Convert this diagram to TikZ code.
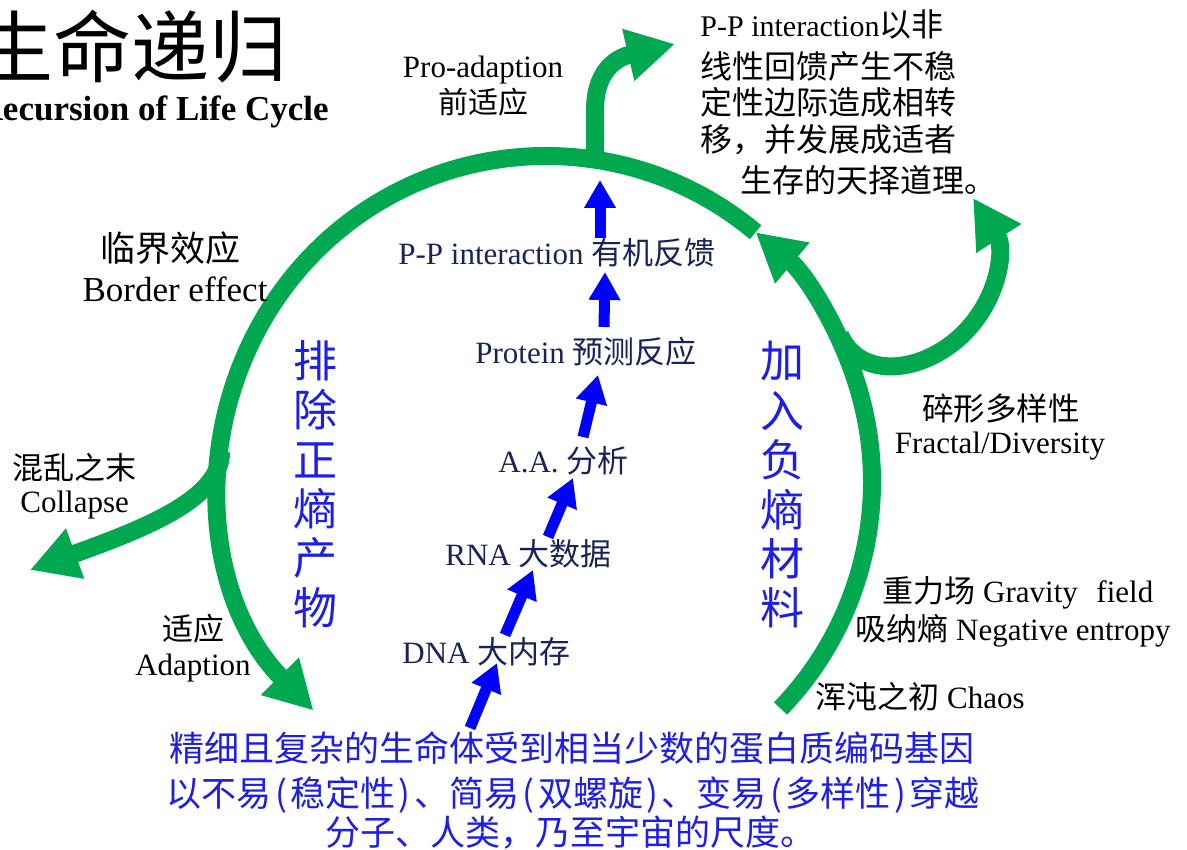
\documentclass[tikz,border=0pt]{standalone}
\usepackage{fontspec}
\setmainfont{Liberation Serif}
\newfontfamily\cjk{Noto Sans CJK SC}
\usetikzlibrary{arrows.meta}
\definecolor{lifegreen}{RGB}{0,168,80}
\definecolor{arrowblue}{RGB}{0,0,255}
\definecolor{textblue}{RGB}{30,30,235}
\definecolor{navy}{RGB}{25,35,90}
\newcommand\myop{\kern.1em(\kern.1em}
\newcommand\mycp{\kern.1em)\kern.1em}
\begin{document}
\begin{tikzpicture}[x=0.5pt,y=-0.5pt,
  garc/.style={draw=lifegreen, line width=9pt},
  garrow/.style={garc, -{Triangle[width=25pt,length=24pt]}},
  barrow/.style={draw=arrowblue, line width=5.5pt, -{Triangle[width=15pt,length=14pt]}},
  en/.style={inner sep=0pt, font=\fontsize{15.5}{18}\selectfont},
  zh/.style={inner sep=0pt, font=\cjk\fontsize{15.5}{18}\selectfont},
  nv/.style={inner sep=0pt, text=navy, font=\fontsize{15.5}{18}\selectfont, anchor=base west},
  vert/.style={inner sep=0pt, text=textblue, align=center, font=\cjk\fontsize{22}{24.7}\selectfont},
  bottomtxt/.style={inner sep=0pt, text=textblue, anchor=base, font=\cjk\fontsize{17.5}{20}\selectfont}]
\useasboundingbox (0,0) rectangle (1187,850);
\clip (0,0) rectangle (1187,850);
\fill[white] (0,0) rectangle (1187,850);

% title
\node[inner sep=0pt, anchor=base east, font=\cjk\fontsize{39}{44}\selectfont] (title) at (288,77) {生命递归};
\node[inner sep=0pt, anchor=base east, font=\bfseries\fontsize{17.5}{21}\selectfont] (subtitle) at (329,121) {Recursion of Life Cycle};

% main cycle
\coordinate (c) at (546,482);
\draw[garrow] (c) ++(44:326) arc[start angle=44, end angle=-50, radius=326];
\draw[garrow] (c) ++(-50:326) arc[start angle=-50, end angle=-224.5, radius=326];

% branches
\coordinate (topj) at (595,163);
\coordinate (toptip) at (675,44);
\draw[garrow] (topj) -- (595,110) .. controls (595,72) and (615,58) .. (toptip);
\coordinate (rightj) at (840,335);
\coordinate (righttip) at (973,198);
\draw[garrow] (rightj) .. controls (859,378) and (918,375) .. (960,337) .. controls (1000,300) and (1005,248) .. (righttip);
\coordinate (leftj) at (221,452);
\coordinate (lefttip) at (30,570);
\draw[garrow] (leftj) .. controls (221,500) and (140,530) .. (lefttip);

% black labels
\node[en, anchor=base] (pro1) at (483,78) {Pro-adaption};
\node[zh, anchor=base, font=\cjk\fontsize{15}{18}\selectfont] (pro2) at (483,114) {前适应};

\node[en, anchor=base west, font=\fontsize{15}{18}\selectfont] (pp1) at (700,37) {P-P interaction{\cjk\fontsize{16}{18}\selectfont 以非}};
\node[zh, anchor=base west, font=\cjk\fontsize{16}{18}\selectfont] (pp2) at (700,79) {线性回馈产生不稳};
\node[zh, anchor=base west, font=\cjk\fontsize{16}{18}\selectfont] (pp3) at (700,115) {定性边际造成相转};
\node[zh, anchor=base west, font=\cjk\fontsize{16}{18}\selectfont] (pp4) at (700,152) {移，并发展成适者};
\node[zh, anchor=base west, font=\cjk\fontsize{16}{18}\selectfont] (pp5) at (740,192) {生存的天择道理。};

\node[zh, anchor=base, font=\cjk\fontsize{17.5}{20}\selectfont] (border1) at (170,261) {临界效应};
\node[en, anchor=base, font=\fontsize{17.5}{20}\selectfont] (border2) at (175,301) {Border effect};

\node[zh, anchor=base west] (col1) at (12,479) {混乱之末};
\node[en, anchor=base west] (col2) at (20,512) {Collapse};

\node[zh, anchor=base] (ad1) at (193,640) {适应};
\node[en, anchor=base] (ad2) at (193,675) {Adaption};

\node[zh, anchor=base, font=\cjk\fontsize{15.8}{18}\selectfont] (fr1) at (1001,420) {碎形多样性};
\node[en, anchor=base] (fr2) at (1000,453) {Fractal/Diversity};

\node[en, anchor=base west] (gr1) at (882,602) {{\cjk 重力场} Gravity\hspace{0.6em}field};
\node[en, anchor=base west] (gr2) at (855,640) {{\cjk 吸纳熵} Negative entropy};
\node[en, anchor=base west] (chaos) at (815,708) {{\cjk 浑沌之初} Chaos};

% vertical blue labels
\node[vert] (expel) at (315,484) {排\\除\\正\\熵\\产\\物};
\node[vert] (addneg) at (782,485) {加\\入\\负\\熵\\材\\料};

% navy chain labels
\node[nv] (pp) at (398,264) {P-P interaction {\cjk 有机反馈}};
\node[nv] (protein) at (475,363) {Protein {\cjk 预测反应}};
\node[nv] (aa) at (498,472) {A.A. {\cjk 分析}};
\node[nv] (rna) at (445,565) {RNA {\cjk 大数据}};
\node[nv] (dna) at (402,663) {DNA {\cjk 大内存}};

% bottom text
\node[bottomtxt] (b1) at (572,761) {精细且复杂的生命体受到相当少数的蛋白质编码基因};
\node[bottomtxt] (b2) at (573,806) {以不易\myop 稳定性\mycp 、简易\myop 双螺旋\mycp 、变易\myop 多样性\mycp 穿越};
\node[bottomtxt] (b3) at (570,845) {分子、人类，乃至宇宙的尺度。};

% blue chain arrows
\coordinate (a1s) at (470,728); \coordinate (a1e) at (497,663);
\coordinate (a2s) at (505,635); \coordinate (a2e) at (533,570);
\coordinate (a3s) at (548,537); \coordinate (a3e) at (573,478);
\coordinate (a4s) at (583,437); \coordinate (a4e) at (598,375);
\coordinate (a5s) at (604,327); \coordinate (a5e) at (605,272);
\coordinate (a6s) at (600,238); \coordinate (a6e) at (600,180);
\draw[barrow] (a1s) -- (a1e);
\draw[barrow] (a2s) -- (a2e);
\draw[barrow] (a3s) -- (a3e);
\draw[barrow] (a4s) -- (a4e);
\draw[barrow] (a5s) -- (a5e);
\draw[barrow] (a6s) -- (a6e);
\end{tikzpicture}
\end{document}
